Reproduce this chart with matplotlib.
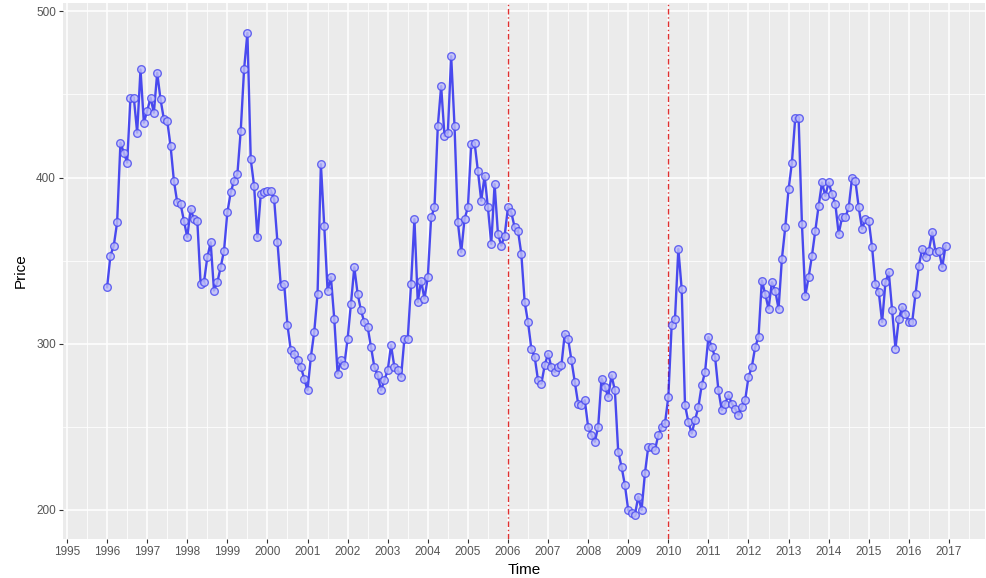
import numpy as np
import matplotlib
matplotlib.use("Agg")
import matplotlib.pyplot as plt
from matplotlib.ticker import MultipleLocator

# Monthly prices, Jan 1996 .. Dec 2016
price_1996_1999 = [334, 353, 359, 373, 421, 415, 409, 448, 448, 427, 465, 433,
                   440, 448, 439, 463, 447, 435, 434, 419, 398, 385, 384, 374,
                   364, 381, 375, 374, 336, 337, 352, 361, 332, 337, 346, 356,
                   379, 391, 398, 402, 428, 465, 487, 411, 395, 364, 390, 391]
price_2000_2003 = [392, 392, 387, 361, 335, 336, 311, 296, 294, 290, 286, 279,
                   272, 292, 307, 330, 408, 371, 332, 340, 315, 282, 290, 287,
                   303, 324, 346, 330, 320, 313, 310, 298, 286, 281, 272, 278,
                   284, 299, 286, 284, 280, 303, 303, 336, 375, 325, 338, 327]
price_2004_2007 = [340, 376, 382, 431, 455, 425, 427, 473, 431, 373, 355, 375,
                   382, 420, 421, 404, 386, 401, 382, 360, 396, 366, 359, 365,
                   382, 379, 370, 368, 354, 325, 313, 297, 292, 278, 276, 287,
                   294, 286, 283, 286, 287, 306, 303, 290, 277, 264, 263, 266]
price_2008_2011 = [250, 245, 241, 250, 279, 274, 268, 281, 272, 235, 226, 215,
                   200, 198, 197, 208, 200, 222, 238, 238, 236, 245, 250, 252,
                   268, 311, 315, 357, 333, 263, 253, 246, 254, 262, 275, 283,
                   304, 298, 292, 272, 260, 264, 269, 264, 261, 257, 262, 266]
price_2012_2016 = [280, 286, 298, 304, 338, 330, 321, 337, 332, 321, 351, 370,
                   393, 409, 436, 436, 372, 329, 340, 353, 368, 383, 397, 389,
                   397, 390, 384, 366, 376, 376, 382, 400, 398, 382, 369, 375,
                   374, 358, 336, 331, 313, 337, 343, 320, 297, 315, 322, 318,
                   313, 313, 330, 347, 357, 352, 356, 367, 355, 356, 346, 359]

price = np.array(price_1996_1999 + price_2000_2003 + price_2004_2007
                 + price_2008_2011 + price_2012_2016, dtype=float)
time = 1996 + np.arange(price.size) / 12.0

year_breaks = list(range(1995, 2018))
event_years = [2006, 2010]

plt.rcParams['font.family'] = ['Liberation Sans', 'DejaVu Sans']

fig = plt.figure(figsize=(9.86, 5.78), dpi=100)
ax = fig.add_axes([63 / 986, 1 - 539 / 578, (985 - 63) / 986, (539 - 3) / 578])

# ggplot2 grey theme
ax.set_facecolor('#EBEBEB')
for s in ax.spines.values():
    s.set_visible(False)
ax.set_xticks(year_breaks)
ax.xaxis.set_minor_locator(MultipleLocator(0.5))
ax.set_yticks([200, 300, 400, 500])
ax.yaxis.set_minor_locator(MultipleLocator(50))
ax.grid(which='major', color='white', linewidth=1.1)
ax.grid(which='minor', color='white', linewidth=0.55)
ax.set_axisbelow(True)
ax.tick_params(which='major', length=3, color='#333333', labelsize=8.5,
               labelcolor='#555555', pad=2)
ax.tick_params(which='minor', length=0)

ax.plot(time, price, color='#2020F0', linewidth=1.7, alpha=0.8,
        marker='o', markersize=5.5, markerfacecolor='#BDBDF8',
        markeredgecolor='#4848F0', markeredgewidth=1.0, zorder=3)

for yr in event_years:
    ax.axvline(yr, color='#E03030', linestyle=(0, (4, 2, 1, 2)), linewidth=1.0, zorder=2)

ax.set_xlim(1994.9, 2017.9)
ax.set_ylim(182.5, 505)
ax.set_xlabel('Time', fontsize=11, labelpad=4)
ax.set_ylabel('Price', fontsize=11, labelpad=6)

fig.savefig('out.png', dpi=100)
